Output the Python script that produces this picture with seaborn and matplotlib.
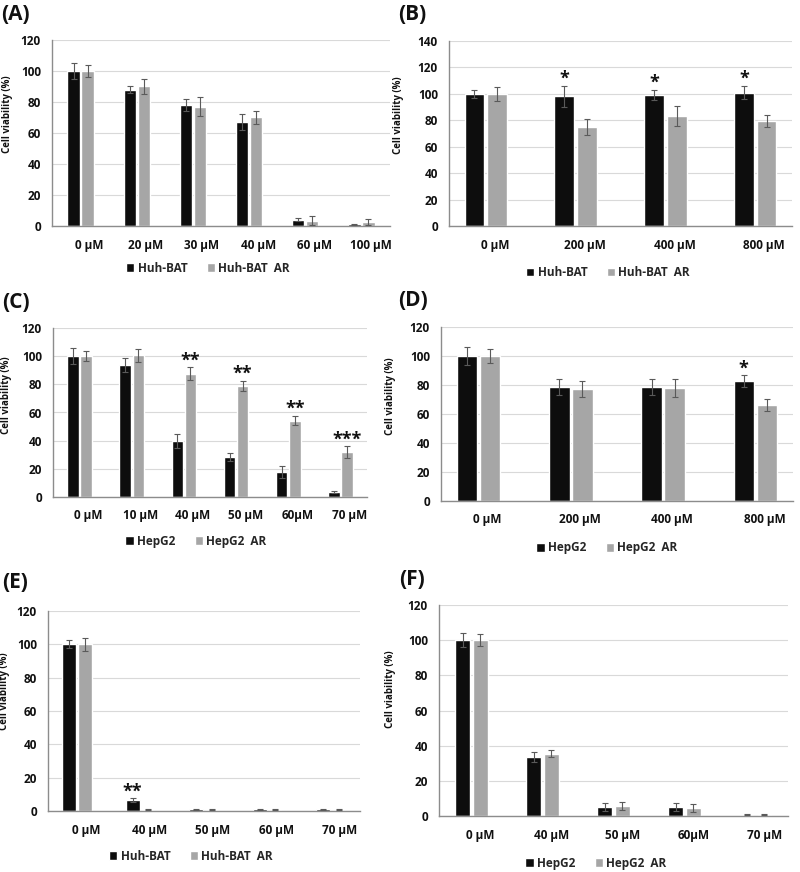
import numpy as np
import pandas as pd
import matplotlib
matplotlib.use("Agg")
import matplotlib.pyplot as plt
import matplotlib.transforms as mtransforms
from matplotlib.patches import Patch
import seaborn as sns

# ---------------- data ----------------
A_conc = ["0 μM", "20 μM", "30 μM", "40 μM", "60 μM", "100 μM"]
A_huh = [100, 88, 78, 67, 4, 1]
A_huh_err = [5, 2, 4, 5, 1, 0.3]
A_ar = [100, 90, 77, 70, 3.5, 2.5]
A_ar_err = [4, 5, 6, 4.5, 2.7, 1.8]

B_conc = ["0 μM", "200 μM", "400 μM", "800 μM"]
B_huh = [100, 98, 99, 101]
B_huh_err = [3, 8, 4, 5]
B_ar = [100, 75, 83.5, 79.5]
B_ar_err = [5.5, 6, 7.5, 4.5]
B_huh_stars = ["", "*", "*", "*"]

C_conc = ["0 μM", "10 μM", "40 μM", "50 μM", "60μM", "70 μM"]
C_hep = [100, 93.6, 40, 28.3, 17.6, 3.6]
C_hep_err = [5.5, 5, 5, 3, 4.3, 1]
C_ar = [100, 100.5, 87.5, 79, 54.2, 32]
C_ar_err = [3.5, 4.5, 4.5, 3.5, 3.3, 4]
C_ar_stars = ["", "", "**", "**", "**", "***"]

D_conc = ["0 μM", "200 μM", "400 μM", "800 μM"]
D_hep = [100, 78.7, 78.7, 82.6]
D_hep_err = [6, 5.5, 5.5, 4]
D_ar = [100, 77.3, 78, 66]
D_ar_err = [5, 5.5, 6, 4]
D_hep_stars = ["", "", "", "*"]

E_conc = ["0 μM", "40 μM", "50 μM", "60 μM", "70 μM"]
E_huh = [100, 6.6, 1, 1, 1]
E_huh_err = [2.4, 1, 0.2, 0.2, 0.2]
E_ar = [100, 0.8, 0.7, 0.7, 0.7]
E_ar_err = [4, 0.3, 0.3, 0.3, 0.3]
E_huh_stars = ["", "**", "", "", ""]

F_conc = ["0 μM", "40 μM", "50 μM", "60μM", "70 μM"]
F_hep = [100, 33.4, 4.9, 4.9, 0.8]
F_hep_err = [4, 2.8, 2.3, 2.3, 0.2]
F_ar = [100, 35.5, 5.7, 4.4, 0.6]
F_ar_err = [3.3, 2, 2.3, 2.3, 0.3]

series_huh = ["Huh-BAT", "Huh-BAT  AR"]
series_hep = ["HepG2", "HepG2  AR"]
y_label = "Cell viability (%)"

# ---------------- style ----------------
sns.set_theme(style="white")
plt.rcParams['font.family'] = ['Open Sans', 'DejaVu Sans']
plt.rcParams['font.weight'] = 'bold'

W, H = 800, 872
fig = plt.figure(figsize=(W / 100, H / 100), dpi=100)

BLACK = '#0d0d0d'
GREY = '#a6a6a6'


def panel(rect_px, title, title_xy, conc, names, v1, e1, v2, e2, ymax, ystep,
          stars1, stars2, legend_xy, ylab_dist):
    l, t, r, b = rect_px
    ax = fig.add_axes([l / W, 1 - b / H, (r - l) / W, (b - t) / H])
    n = len(conc)
    df = pd.DataFrame({
        'conc': list(conc) * 2,
        'line': [names[0]] * n + [names[1]] * n,
        'val': list(v1) + list(v2),
    })
    sns.barplot(data=df, x='conc', y='val', hue='line', order=conc,
                hue_order=names, palette=[BLACK, GREY], width=0.5, gap=0.12,
                errorbar=None, ax=ax, legend=False, saturation=1)
    for cont, errs, stars in zip(ax.containers, [e1, e2], [stars1, stars2]):
        xs = [p.get_x() + p.get_width() / 2 for p in cont]
        hs = [p.get_height() for p in cont]
        ax.errorbar(xs, hs, yerr=errs, fmt='none', ecolor='#5a5a5a',
                    elinewidth=0.8, capsize=2.5, capthick=0.8, zorder=5)
        if stars is None:
            continue
        for x, h, e, s in zip(xs, hs, errs, stars):
            if s:
                ax.annotate(s, (x, h + e), xytext=(0, 5), textcoords='offset points',
                            ha='center', va='center', fontsize=13, fontweight='bold',
                            color='#111111')
    ax.set_ylim(0, ymax)
    ax.set_yticks(np.arange(0, ymax + 1, ystep))
    ax.yaxis.grid(True, color='#d9d9d9', lw=0.8)
    ax.set_axisbelow(True)
    for s in ['top', 'right']:
        ax.spines[s].set_visible(False)
    for s in ['left', 'bottom']:
        ax.spines[s].set_color('#8c8c8c')
        ax.spines[s].set_linewidth(1.0)
    ax.tick_params(axis='x', length=0, labelsize=8.5, pad=9, colors='#111111')
    ax.tick_params(axis='y', length=0, labelsize=8.5, pad=8, colors='#111111')
    for lab in ax.get_xticklabels() + ax.get_yticklabels():
        lab.set_fontweight('bold')
    off = mtransforms.ScaledTranslation(9 / 100, 0, fig.dpi_scale_trans)
    for lab in ax.get_xticklabels():
        lab.set_transform(lab.get_transform() + off)
    ax.set_xlabel('')
    ax.set_ylabel(y_label, fontsize=7, fontweight='bold', color='#111111')
    ax.yaxis.set_label_coords(-ylab_dist / (r - l), 0.6)
    handles = [Patch(facecolor=BLACK), Patch(facecolor=GREY)]
    ax.legend(handles, names, loc='center',
              bbox_to_anchor=(legend_xy[0] / W, 1 - legend_xy[1] / H),
              bbox_transform=fig.transFigure, ncol=2, frameon=False,
              handlelength=0.7, handleheight=0.7, handletextpad=0.3,
              columnspacing=1.6, prop={'weight': 'bold', 'size': 8.5})
    fig.text(title_xy[0] / W, 1 - title_xy[1] / H, title, fontsize=15,
             fontweight='bold', ha='left', va='center', color='#111111')
    return ax


panel((52, 40, 390, 226), "(A)", (1, 15), A_conc, series_huh,
      A_huh, A_huh_err, A_ar, A_ar_err, 120, 20, None, None, (208, 268), 39)
panel((449, 41, 792, 226), "(B)", (398, 15), B_conc, series_huh,
      B_huh, B_huh_err, B_ar, B_ar_err, 140, 20, B_huh_stars, None, (608, 273), 45)
panel((53, 328, 367, 497), "(C)", (2, 302), C_conc, series_hep,
      C_hep, C_hep_err, C_ar, C_ar_err, 120, 20, None, C_ar_stars, (196, 541), 41)
panel((441, 327, 793, 501), "(D)", (398, 301), D_conc, series_hep,
      D_hep, D_hep_err, D_ar, D_ar_err, 120, 20, D_hep_stars, None, (607, 548), 45)
panel((48, 611, 360, 811), "(E)", (2, 582), E_conc, series_huh,
      E_huh, E_huh_err, E_ar, E_ar_err, 120, 20, E_huh_stars, None, (191, 856), 38)
panel((439, 605, 788, 816), "(F)", (399, 579), F_conc, series_hep,
      F_hep, F_hep_err, F_ar, F_ar_err, 120, 20, None, None, (596, 863), 43)

fig.savefig("out.png", dpi=100, facecolor='white')
